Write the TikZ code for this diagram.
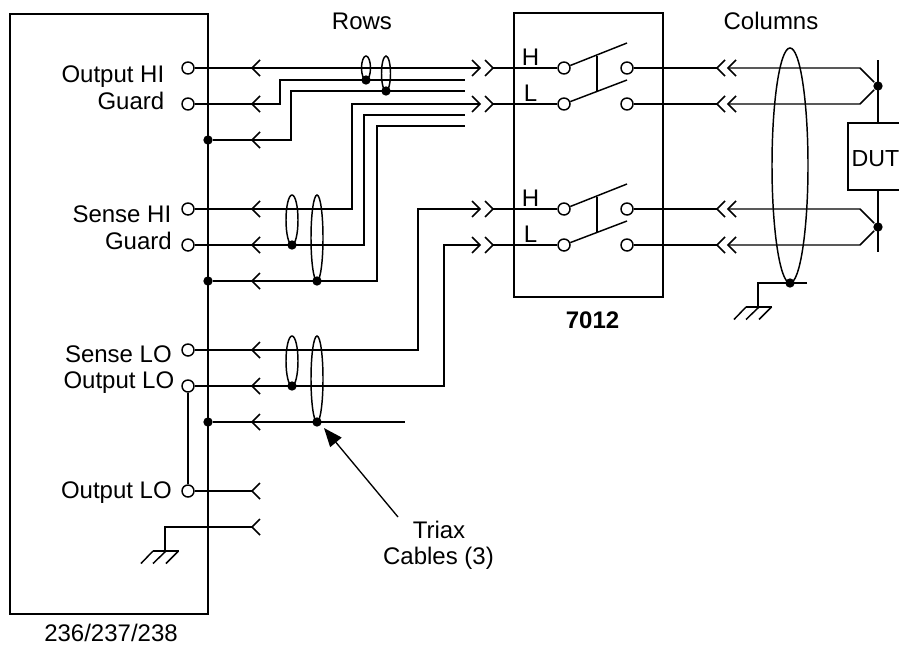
\documentclass[tikz,border=0pt]{standalone}
\usepackage{fontspec}
\setmainfont{Liberation Sans}
\usetikzlibrary{arrows.meta}
\tikzset{
  every node/.style={font=\fontsize{18}{20}\selectfont,inner sep=0pt},
  term/.style={circle,draw,fill=white,minimum size=9pt},
  dot/.style={circle,fill=black,minimum size=7pt},
  wire/.style={line width=1.1pt},
  lab/.style={anchor=base east},
  mid/.style={anchor=base},
}
\newcommand{\lfork}[2]{\draw[wire] (#1+8,#2-8) -- (#1,#2) -- (#1+8,#2+8);}
\newcommand{\rfork}[2]{\draw[wire] (#1-8,#2-8) -- (#1,#2) -- (#1-8,#2+8);}
\newcommand{\earth}[2]{
  \draw[wire] (#1-12,#2) -- (#1+13.5,#2);
  \draw[wire] (#1+13.5,#2) -- (#1+1,#2+12.5);
  \draw[wire] (#1+1,#2) -- (#1-12,#2+12.5);
  \draw[wire] (#1-12,#2) -- (#1-24,#2+12.5);
}
\begin{document}
\begin{tikzpicture}[x=0.75pt,y=-0.75pt,wire]
  \useasboundingbox (0,0) rectangle (899,646);
  % boxes
  \draw (10,14) rectangle (208,614);
  \draw (514,13) rectangle (663,297);
  \draw (848,123) rectangle (910,190);
  % labels
  \node[mid] (rows) at (362,29) {Rows};
  \node[mid] (cols) at (771,29) {Columns};
  \node[mid,font=\fontsize{18}{20}\selectfont\bfseries] (sw) at (592.5,328) {7012};
  \node[mid] (src) at (111,641) {236/237/238};
  \node[anchor=base west,font=\fontsize{17.4}{20}\selectfont] (dut) at (851,166) {DUT};
  \node[lab] (lab1) at (165,82.7) {Output HI};
  \node[lab] (lab2) at (165,109) {Guard};
  \node[lab] (lab3) at (172,222.7) {Sense HI};
  \node[lab] (lab4) at (172.5,249) {Guard};
  \node[lab] (lab5) at (172.5,362) {Sense LO};
  \node[lab] (lab6) at (175,388.7) {Output LO};
  \node[lab] (lab7) at (172.5,498) {Output LO};
  \node[mid] (tri) at (439,538) {Triax};
  \node[mid] (cab) at (438.5,564) {Cables (3)};
  \node[mid] (h1) at (530.5,65) {H};
  \node[mid] (l1) at (530.5,101) {L};
  \node[mid] (h2) at (530.5,206) {H};
  \node[mid] (l2) at (530.5,242) {L};
  % source terminals
  \node[term] (t1) at (188,68) {};
  \node[term] (t2) at (188,104) {};
  \node[term] (t3) at (188,209) {};
  \node[term] (t4) at (188,245) {};
  \node[term] (t5) at (188,350) {};
  \node[term] (t6) at (188,386) {};
  \node[term] (t7) at (188,491) {};
  % switch terminals
  \node[term] (a1) at (564,68) {};
  \node[term] (a2) at (564,104) {};
  \node[term] (a3) at (564,209) {};
  \node[term] (a4) at (564,245) {};
  \node[term] (b1) at (627,68) {};
  \node[term] (b2) at (627,104) {};
  \node[term] (b3) at (627,209) {};
  \node[term] (b4) at (627,245) {};
  % dots
  \node[dot] (g1) at (208,140) {};
  \node[dot] (g2) at (208,281) {};
  \node[dot] (g3) at (208,422) {};
  \node[dot] (d1) at (366,80) {};
  \node[dot] (d2) at (386,91) {};
  \node[dot] (d3) at (292,245) {};
  \node[dot] (d4) at (317,281) {};
  \node[dot] (d5) at (292,386) {};
  \node[dot] (d6) at (317,422) {};
  \node[dot] (d7) at (790,283) {};
  \node[dot] (p1) at (878,86) {};
  \node[dot] (p2) at (878,227) {};
  % free ends
  \coordinate (e1) at (480,68);
  \coordinate (e2) at (465,80);
  \coordinate (e3) at (465,91);
  \coordinate (e4) at (480,104);
  \coordinate (e5) at (465,115);
  \coordinate (e6) at (465,126);
  \coordinate (e7) at (480,209);
  \coordinate (e8) at (480,245);
  \coordinate (e9) at (405,422);
  \coordinate (f1) at (493,68);
  \coordinate (f2) at (493,104);
  \coordinate (f3) at (493,209);
  \coordinate (f4) at (493,245);
  \coordinate (c1) at (717,68);
  \coordinate (c2) at (717,104);
  \coordinate (c3) at (717,209);
  \coordinate (c4) at (717,245);
  \coordinate (k1) at (728,68);
  \coordinate (k2) at (728,104);
  \coordinate (k3) at (728,209);
  \coordinate (k4) at (728,245);
  \coordinate (n1) at (860,68);
  \coordinate (n2) at (860,104);
  \coordinate (n3) at (860,209);
  \coordinate (n4) at (860,245);
  % rows
  \draw (t1) -- (e1);
  \draw (t2) -- (280,104) |- (e2);
  \draw (g1) -- (291,140) |- (e3);
  \draw (t3) -- (352,209) |- (e4);
  \draw (t4) -- (364,245) |- (e5);
  \draw (g2) -- (377,281) |- (e6);
  \draw (t5) -- (418,350) |- (e7);
  \draw (t6) -- (444,386) |- (e8);
  \draw (g3) -- (e9);
  \draw (t6) -- (t7);
  \draw (t7) -- (252,491);
  \draw (165,551) |- (252,527);
  \earth{165}{551}
  % switch side
  \draw (f1) -- (a1);
  \draw (f2) -- (a2);
  \draw (f3) -- (a3);
  \draw (f4) -- (a4);
  \draw (b1) -- (c1);
  \draw (b2) -- (c2);
  \draw (b3) -- (c3);
  \draw (b4) -- (c4);
  \draw (k1) -- (n1) -- (p1);
  \draw (k2) -- (n2) -- (p1);
  \draw (k3) -- (n3) -- (p2);
  \draw (k4) -- (n4) -- (p2);
  % blades
  \draw (a1) -- (627,43);
  \draw (a2) -- (627,80);
  \draw (a3) -- (627,184);
  \draw (a4) -- (627,221);
  \draw (597,56) -- (597,91);
  \draw (597,197) -- (597,232);
  % DUT leads
  \draw (878,60) -- (878,123);
  \draw (878,190) -- (878,252);
  % connector marks
  \foreach \y in {68,104,140} {\lfork{252}{\y}}
  \foreach \y in {209,245,281} {\lfork{252}{\y}}
  \foreach \y in {350,386,422,491,527} {\lfork{252}{\y}}
  \foreach \y in {68,104,209,245} {
    \rfork{480}{\y}
    \rfork{493}{\y}
    \lfork{717}{\y}
    \lfork{728}{\y}
  }
  % cable loops
  \draw (366,68) ellipse [x radius=4.5,y radius=12];
  \draw (386,73.5) ellipse [x radius=4.5,y radius=17.5];
  \draw (292,220) ellipse [x radius=6,y radius=25];
  \draw (317,238) ellipse [x radius=6,y radius=43];
  \draw (292,361) ellipse [x radius=6,y radius=25];
  \draw (317,379) ellipse [x radius=6,y radius=43];
  \draw (790,165.5) ellipse [x radius=18,y radius=117.5];
  % shield earth
  \draw (807,283) -- (758,283) -- (758,307);
  \earth{758}{307}
  % pointer
  \draw[-{Triangle[length=14pt,width=11pt]},line width=1pt] (398,517) -- (324,428);
\end{tikzpicture}
\end{document}
